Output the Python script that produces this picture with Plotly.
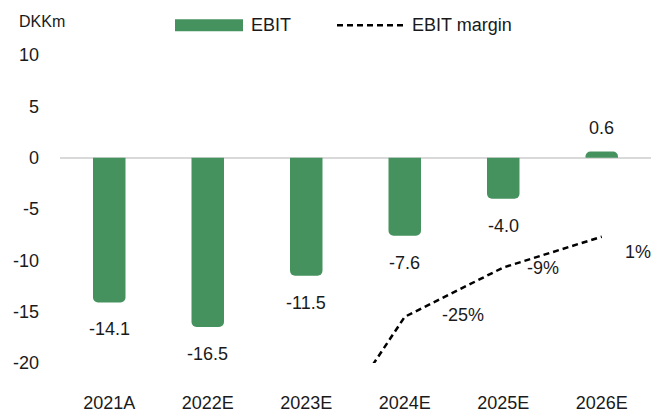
import plotly.graph_objects as go

# EBIT (DKKm) and EBIT margin (%) by year
categories = ["2021A", "2022E", "2023E", "2024E", "2025E", "2026E"]
ebit = [-14.1, -16.5, -11.5, -7.6, -4.0, 0.6]
ebit_margin = [None, None, -73, -25, -9, 1]

y_ticks = [10, 5, 0, -5, -10, -15, -20]

FONT = "Liberation Sans, Arial, sans-serif"
FS = 18
GREEN = "#46925f"
TEXT = "#1a1a1a"

# plot-area geometry in pixels (used for the hand-drawn legend)
W, H = 653, 415
ML, MR, MT, MB = 60, 2, 55, 49
PW, PH = W - ML - MR, H - MT - MB


def px_x(px):
    return (px - ML) / PW


def px_y(py):
    return 1 - (py - MT) / PH


fig = go.Figure()

fig.add_trace(go.Bar(
    x=categories, y=ebit, name="EBIT",
    marker=dict(color=GREEN, line=dict(width=0), cornerradius=5),
    width=0.33, showlegend=False,
))

fig.add_trace(go.Scatter(
    x=categories, y=ebit_margin, name="EBIT margin", yaxis="y2",
    mode="lines", line=dict(color="black", width=2.5, dash="6px,4px"),
    connectgaps=False, showlegend=False,
))

annotations = []

# EBIT value labels: below negative bars, above positive ones
for cat, v in zip(categories, ebit):
    annotations.append(dict(
        x=cat, y=v, xref="x", yref="y", text=f"{v:.1f}", showarrow=False,
        yshift=24 if v >= 0 else -27,
        font=dict(family=FONT, size=FS, color=TEXT),
    ))

# EBIT margin labels sit to the right of each visible point
margin_label_offsets = {"2024E": (58, 2), "2025E": (40, 0), "2026E": (36, -15)}
for cat, m in zip(categories, ebit_margin):
    if m is None or cat not in margin_label_offsets:
        continue
    dx, dy = margin_label_offsets[cat]
    annotations.append(dict(
        x=cat, y=m, xref="x", yref="y2", text=f"{m:.0f}%", showarrow=False,
        xshift=dx, yshift=dy,
        font=dict(family=FONT, size=FS, color=TEXT),
    ))

# unit label
annotations.append(dict(
    x=px_x(17), y=px_y(21), xref="paper", yref="paper", text="DKKm",
    showarrow=False, xanchor="left", yanchor="middle",
    font=dict(family=FONT, size=16, color=TEXT),
))

# legend texts
annotations.append(dict(
    x=px_x(249), y=px_y(25), xref="paper", yref="paper", text="EBIT",
    showarrow=False, xanchor="left", yanchor="middle",
    font=dict(family=FONT, size=FS, color=TEXT),
))
annotations.append(dict(
    x=px_x(410), y=px_y(25), xref="paper", yref="paper", text="EBIT margin",
    showarrow=False, xanchor="left", yanchor="middle",
    font=dict(family=FONT, size=FS, color=TEXT),
))

shapes = [
    # legend swatch: EBIT bar
    dict(type="rect", xref="paper", yref="paper",
         x0=px_x(175), x1=px_x(243), y0=px_y(31), y1=px_y(19),
         fillcolor=GREEN, line=dict(width=0)),
    # legend swatch: EBIT margin line
    dict(type="line", xref="paper", yref="paper",
         x0=px_x(337), x1=px_x(405), y0=px_y(25), y1=px_y(25),
         line=dict(color="black", width=2.5, dash="6px,4px")),
]

fig.update_layout(
    width=W, height=H,
    margin=dict(l=ML, r=MR, t=MT, b=MB, pad=0),
    paper_bgcolor="white", plot_bgcolor="white",
    showlegend=False,
    font=dict(family=FONT, size=FS, color=TEXT),
    xaxis=dict(
        type="category", range=[-0.5, 5.5],
        showgrid=False, showline=False, ticks="", zeroline=False,
        tickfont=dict(family=FONT, size=FS, color=TEXT),
        ticklabelstandoff=27,
    ),
    yaxis=dict(
        range=[-20, 10], tickvals=y_ticks, ticktext=[str(t) for t in y_ticks],
        showgrid=False, showline=False, ticks="",
        zeroline=True, zerolinecolor="#d9d9d9", zerolinewidth=2,
        tickfont=dict(family=FONT, size=FS, color=TEXT),
        ticklabelstandoff=20,
    ),
    yaxis2=dict(
        range=[-40, 60], overlaying="y", side="right", visible=False,
        showgrid=False, zeroline=False,
    ),
    annotations=annotations,
    shapes=shapes,
)

fig.write_html("out.html")
